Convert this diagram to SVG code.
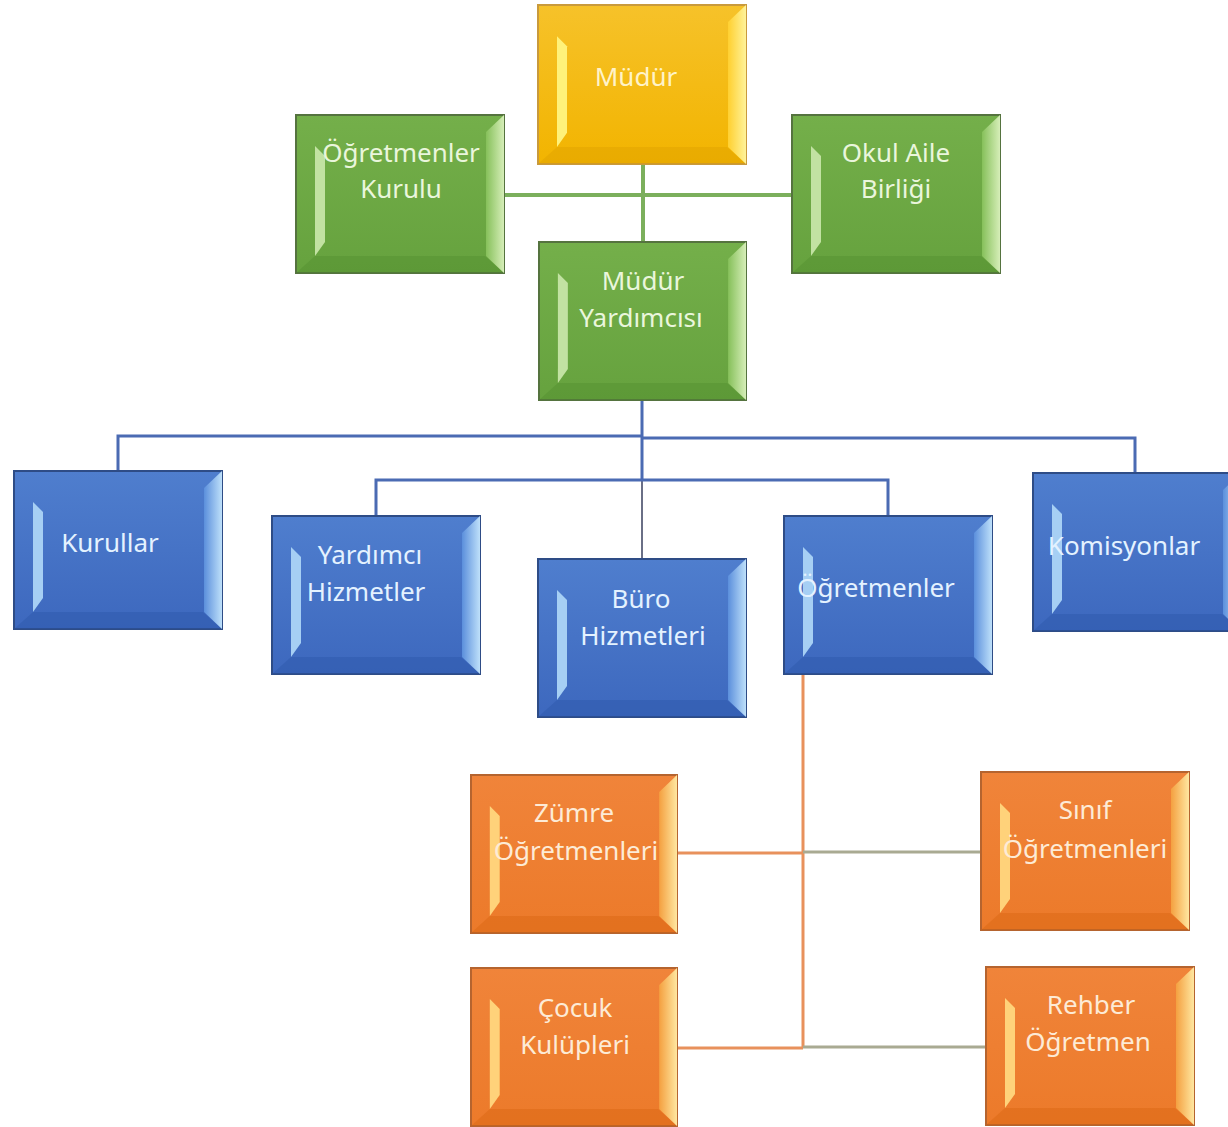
<svg xmlns="http://www.w3.org/2000/svg" xmlns:xlink="http://www.w3.org/1999/xlink" width="1228" height="1127" viewBox="0 0 1228 1127">
<style>
  .lbl { font-family: "Noto Sans", "Open Sans", "Liberation Sans", sans-serif; font-size: 26px; text-anchor: middle; }
  .ty { fill: #FFF3C8; }
  .tg { fill: #EAF6DC; }
  .tb { fill: #E4F2FF; }
  .to { fill: #FDEBD6; }
  .cg { stroke: #7BAF5C; stroke-width: 4; fill: none; }
  .cb { stroke: #4B6BB3; stroke-width: 3; fill: none; }
  .cb2 { stroke: #6A6F86; stroke-width: 2; fill: none; }
  .co { stroke: #E8915C; stroke-width: 3; fill: none; }
  .cgr { stroke: #A9AA92; stroke-width: 3; fill: none; }
</style>
<defs>
  <linearGradient id="gy" x1="0" y1="0" x2="0" y2="1"><stop offset="0" stop-color="#F6C22A"/><stop offset="1" stop-color="#F2B400"/></linearGradient>
  <linearGradient id="gyr" x1="0" y1="0" x2="1" y2="0"><stop offset="0" stop-color="#FFD030"/><stop offset="1" stop-color="#FFF39A"/></linearGradient>
  <linearGradient id="gg" x1="0" y1="0" x2="0" y2="1"><stop offset="0" stop-color="#74AF4A"/><stop offset="1" stop-color="#66A23E"/></linearGradient>
  <linearGradient id="ggr" x1="0" y1="0" x2="1" y2="0"><stop offset="0" stop-color="#86C05A"/><stop offset="1" stop-color="#D6EEB8"/></linearGradient>
  <linearGradient id="gb" x1="0" y1="0" x2="0" y2="1"><stop offset="0" stop-color="#4F7ECE"/><stop offset="1" stop-color="#3D68BE"/></linearGradient>
  <linearGradient id="gbr" x1="0" y1="0" x2="1" y2="0"><stop offset="0" stop-color="#5B8FDC"/><stop offset="1" stop-color="#BEE0FA"/></linearGradient>
  <linearGradient id="go" x1="0" y1="0" x2="0" y2="1"><stop offset="0" stop-color="#F0843A"/><stop offset="1" stop-color="#EC7A2A"/></linearGradient>
  <linearGradient id="gor" x1="0" y1="0" x2="1" y2="0"><stop offset="0" stop-color="#F4A040"/><stop offset="1" stop-color="#FFE7A0"/></linearGradient>

  <symbol id="by" viewBox="0 0 210 160" preserveAspectRatio="none">
    <rect x="1" y="1" width="208" height="158" fill="url(#gy)" stroke="#C99A3C" stroke-width="2"/>
    <polygon points="1,159 20,142 190,142 209,159" fill="#D99A00" opacity="0.35"/>
    <polygon points="209,1 209,159 191,142 191,18" fill="url(#gyr)"/>
    <polygon points="20,32 30,42 30,128 20,142" fill="#FFF27A"/>
  </symbol>
  <symbol id="bg" viewBox="0 0 210 160" preserveAspectRatio="none">
    <rect x="1" y="1" width="208" height="158" fill="url(#gg)" stroke="#55733F" stroke-width="2"/>
    <polygon points="1,159 20,142 190,142 209,159" fill="#4E8A2C" opacity="0.35"/>
    <polygon points="209,1 209,159 191,142 191,18" fill="url(#ggr)"/>
    <polygon points="20,32 30,42 30,128 20,142" fill="#C2E2A2"/>
  </symbol>
  <symbol id="bb" viewBox="0 0 210 160" preserveAspectRatio="none">
    <rect x="1" y="1" width="208" height="158" fill="url(#gb)" stroke="#2E4C86" stroke-width="2"/>
    <polygon points="1,159 20,142 190,142 209,159" fill="#2A55A8" opacity="0.4"/>
    <polygon points="209,1 209,159 191,142 191,18" fill="url(#gbr)"/>
    <polygon points="20,32 30,42 30,128 20,142" fill="#A6CFF4"/>
  </symbol>
  <symbol id="bo" viewBox="0 0 210 160" preserveAspectRatio="none">
    <rect x="1" y="1" width="208" height="158" fill="url(#go)" stroke="#B5642F" stroke-width="2"/>
    <polygon points="1,159 20,142 190,142 209,159" fill="#D86410" opacity="0.4"/>
    <polygon points="209,1 209,159 191,142 191,18" fill="url(#gor)"/>
    <polygon points="20,32 30,42 30,128 20,142" fill="#FFD27A"/>
  </symbol>
</defs>

<rect width="1228" height="1127" fill="#FFFFFF"/>

<g id="connectors">
  <line class="cg" x1="505" y1="195" x2="791" y2="195"/>
  <line class="cg" x1="643" y1="165" x2="643" y2="241"/>
  <line class="cb" x1="642" y1="401" x2="642" y2="480"/>
  <line class="cb2" x1="642" y1="480" x2="642" y2="558"/>
  <polyline class="cb" points="118,470 118,436 642,436"/>
  <polyline class="cb" points="642,438 1135,438 1135,472"/>
  <polyline class="cb" points="376,515 376,480 888,480 888,515"/>
  <line class="co" x1="803" y1="675" x2="803" y2="1047"/>
  <line class="co" x1="678" y1="853" x2="803" y2="853"/>
  <line class="cgr" x1="803" y1="852" x2="980" y2="852"/>
  <line class="co" x1="678" y1="1048" x2="803" y2="1048"/>
  <line class="cgr" x1="803" y1="1047" x2="985" y2="1047"/>
</g>

<g id="n-mudur">
  <use href="#by" x="537" y="4" width="210" height="161"/>
  <text class="lbl ty" x="636" y="86">Müdür</text>
</g>
<g id="n-ogretmenler-kurulu">
  <use href="#bg" x="295" y="114" width="210" height="160"/>
  <text class="lbl tg" x="401" y="162">Öğretmenler</text>
  <text class="lbl tg" x="401" y="198">Kurulu</text>
</g>
<g id="n-okul-aile">
  <use href="#bg" x="791" y="114" width="210" height="160"/>
  <text class="lbl tg" x="896" y="162">Okul Aile</text>
  <text class="lbl tg" x="896" y="198">Birliği</text>
</g>
<g id="n-mudur-yardimcisi">
  <use href="#bg" x="538" y="241" width="209" height="160"/>
  <text class="lbl tg" x="643" y="290">Müdür</text>
  <text class="lbl tg" x="641" y="327">Yardımcısı</text>
</g>
<g id="n-kurullar">
  <use href="#bb" x="13" y="470" width="210" height="160"/>
  <text class="lbl tb" x="110" y="552">Kurullar</text>
</g>
<g id="n-yardimci-hizmetler">
  <use href="#bb" x="271" y="515" width="210" height="160"/>
  <text class="lbl tb" x="370" y="564">Yardımcı</text>
  <text class="lbl tb" x="366" y="601">Hizmetler</text>
</g>
<g id="n-buro-hizmetleri">
  <use href="#bb" x="537" y="558" width="210" height="160"/>
  <text class="lbl tb" x="641" y="608">Büro</text>
  <text class="lbl tb" x="643" y="645">Hizmetleri</text>
</g>
<g id="n-ogretmenler">
  <use href="#bb" x="783" y="515" width="210" height="160"/>
  <text class="lbl tb" x="876" y="597">Öğretmenler</text>
</g>
<g id="n-komisyonlar">
  <use href="#bb" x="1032" y="472" width="210" height="160"/>
  <text class="lbl tb" x="1124" y="555">Komisyonlar</text>
</g>
<g id="n-zumre">
  <use href="#bo" x="470" y="774" width="208" height="160"/>
  <text class="lbl to" x="574" y="822">Zümre</text>
  <text class="lbl to" x="576" y="860">Öğretmenleri</text>
</g>
<g id="n-sinif">
  <use href="#bo" x="980" y="771" width="210" height="160"/>
  <text class="lbl to" x="1085" y="819">Sınıf</text>
  <text class="lbl to" x="1085" y="858">Öğretmenleri</text>
</g>
<g id="n-cocuk">
  <use href="#bo" x="470" y="967" width="208" height="160"/>
  <text class="lbl to" x="575" y="1017">Çocuk</text>
  <text class="lbl to" x="575" y="1054">Kulüpleri</text>
</g>
<g id="n-rehber">
  <use href="#bo" x="985" y="966" width="210" height="160"/>
  <text class="lbl to" x="1091" y="1014">Rehber</text>
  <text class="lbl to" x="1088" y="1051">Öğretmen</text>
</g>
</svg>
